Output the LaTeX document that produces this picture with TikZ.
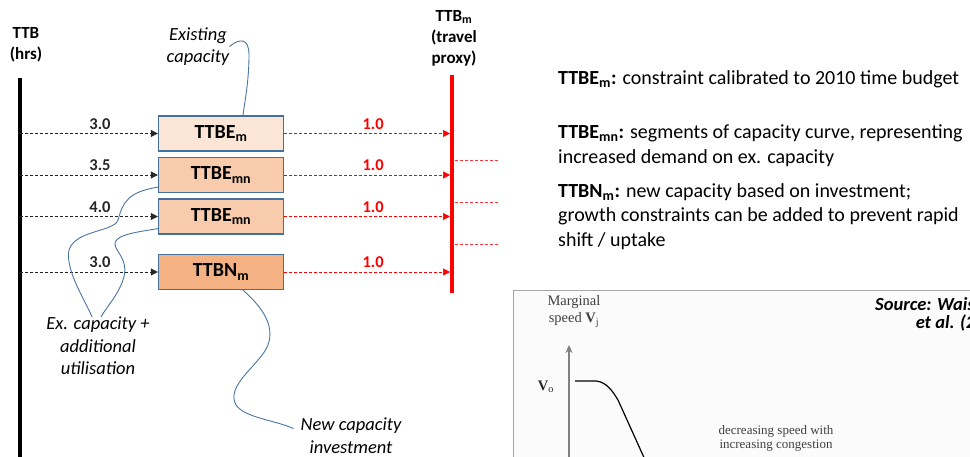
\documentclass[tikz,border=0pt]{standalone}
\usepackage{fontspec}
\setmainfont{Carlito}
\newfontfamily\scanfont{Liberation Serif}
\usepackage{tikz}
\usetikzlibrary{arrows.meta}

\definecolor{boxline}{HTML}{41719C}
\definecolor{peachA}{HTML}{FBE5D6}
\definecolor{peachB}{HTML}{F8CBAD}
\definecolor{peachC}{HTML}{F4B183}
\definecolor{calloutblue}{HTML}{4A74A0}

\tikzset{
  budget/.style={draw=boxline, line width=1.3pt, minimum width=125pt, minimum height=35pt, inner sep=0pt, font=\fontsize{20}{22}\selectfont\bfseries},
  axislabel/.style={align=center, inner sep=0pt, font=\fontsize{17}{21}\selectfont\bfseries},
  ttbarrow/.style={dash pattern=on 3pt off 2pt, black!85, line width=0.7pt, -{Triangle[length=7pt,width=7pt]}},
  proxyarrow/.style={dash pattern=on 3pt off 2pt, red, line width=0.7pt, shorten >=2pt, -{Triangle[length=7pt,width=7pt]}},
  proxystub/.style={dash pattern=on 3pt off 2pt, red!80, line width=0.7pt},
  hours/.style={above=3pt, inner sep=1pt, font=\fontsize{16.5}{18}\selectfont\bfseries},
  ratio/.style={hours, text=red},
  note/.style={anchor=west, align=left, inner sep=0pt, font=\fontsize{20}{24.5}\selectfont},
  callout/.style={align=center, inner sep=0pt, font=\fontsize{18.5}{22.5}\selectfont\itshape},
  calloutline/.style={calloutblue, line width=0.9pt},
  scanlabel/.style={align=center, inner sep=0pt, text=black!75, font=\scanfont\fontsize{14.5}{17}\selectfont}
}

\begin{document}
\begin{tikzpicture}[x=1pt, y=-1pt]
    \useasboundingbox (0,0) rectangle (970,457);

    % draw time budget axis and proxy axis
    \node[axislabel] (ttb) at (26,44.5) {TTB\\(hrs)};
    \coordinate (ttbtop) at (20,78);
    \coordinate (ttbbottom) at (20,462);
    \draw[line width=3.3pt] (ttbtop) -- (ttbbottom);

    \node[axislabel] (proxy) at (454,38) {TTB\textsubscript{m}\\(travel\\proxy)};
    \coordinate (proxytop) at (452,75);
    \coordinate (proxybottom) at (452,293);
    \draw[red, line width=4pt] (proxytop) -- (proxybottom);

    % draw budget boxes
    \node[budget, fill=peachA] (existing) at (221,133.5) {TTBE\textsubscript{m}};
    \node[budget, fill=peachB] (mnA) at (221,175) {TTBE\textsubscript{mn}};
    \node[budget, fill=peachB] (mnB) at (221,216.5) {TTBE\textsubscript{mn}};
    \node[budget, fill=peachC] (newbox) at (221,272) {TTBN\textsubscript{m}};

    % draw hours arrows
    \draw[ttbarrow] (existing.west -| ttbtop) -- node[hours, pos=0.58] (hrsA) {3.0} (existing.west);
    \draw[ttbarrow] (mnA.west -| ttbtop) -- node[hours, pos=0.58] (hrsB) {3.5} (mnA.west);
    \draw[ttbarrow] (mnB.west -| ttbtop) -- node[hours, pos=0.58] (hrsC) {4.0} (mnB.west);
    \draw[ttbarrow] (newbox.west -| ttbtop) -- node[hours, pos=0.58] (hrsD) {3.0} (newbox.west);

    % draw proxy arrows
    \draw[proxyarrow] (existing.east) -- node[ratio, pos=0.53] (ratioA) {1.0} (existing.east -| proxytop);
    \draw[proxyarrow] (mnA.east) -- node[ratio, pos=0.53] (ratioB) {1.0} (mnA.east -| proxytop);
    \draw[proxyarrow] (mnB.east) -- node[ratio, pos=0.53] (ratioC) {1.0} (mnB.east -| proxytop);
    \draw[proxyarrow] (newbox.east) -- node[ratio, pos=0.53] (ratioD) {1.0} (newbox.east -| proxytop);

    \draw[proxystub] (455,160) -- (498,160);
    \draw[proxystub] (455,202) -- (498,202);
    \draw[proxystub] (455,244) -- (498,244);

    % draw callouts
    \node[callout] (existcap) at (198,46.5) {Existing\\capacity};
    \draw[calloutline] (existcap.east) .. controls (240,38) and (249,38) .. (249,55) .. controls (249,80) and (245,100) .. ([xshift=22pt]existing.north);

    \node[callout] (excap) at (98,346) {Ex. capacity +\\additional\\utilisation};
    \draw[calloutline] ([yshift=6pt]mnA.south west) .. controls (128,192) and (123,202) .. (118,220) .. controls (114,232) and (75,230) .. (69,250) .. controls (65,270) and (85,300) .. ([xshift=-6pt]excap.north);
    \draw[calloutline] ([yshift=6pt]mnB.south west) .. controls (130,233) and (110,236) .. (116,248) .. controls (122,258) and (128,265) .. (123,280) .. controls (118,295) and (108,305) .. ([xshift=3pt]excap.north);

    \node[callout] (newcap) at (351,435.5) {New capacity\\investment};
    \draw[calloutline] ([xshift=22pt]newbox.south) .. controls (262,307) and (275,325) .. (268,345) .. controls (260,365) and (225,385) .. (236,405) .. controls (245,418) and (275,420) .. ([xshift=-7pt, yshift=-11pt]newcap.north west);

    % draw notes
    \node[note] (noteA) at (558,79) {\textbf{TTBE\textsubscript{m}:} constraint calibrated to 2010 time budget};
    \node[note] (noteB) at (558,145.5) {\textbf{TTBE\textsubscript{mn}:} segments of capacity curve, representing\\increased demand on ex. capacity};
    \node[note] (noteC) at (558,216.5) {\textbf{TTBN\textsubscript{m}:} new capacity based on investment;\\growth constraints can be added to prevent rapid\\shift / uptake};

    % draw speed curve figure
    \draw[gray!70, line width=0.8pt, fill=gray!3] (513,290) rectangle (990,480);
    \node[scanlabel] (marginal) at (574,311.5) {Marginal\\speed \textbf{V}\textsubscript{j}};
    \draw[gray, line width=1.3pt, -{Stealth[length=8pt,width=7pt]}] (569,462) -- (569,345);
    \node[scanlabel, text=black!85] (vzero) at (546,387) {\textbf{V}\textsubscript{o}};
    \draw[line width=1.2pt] (575,381) -- (596,381) .. controls (606,382) and (612,390) .. (618,400) -- (646,462);
    \node[scanlabel, font=\scanfont\fontsize{13}{13.5}\selectfont] (decreasing) at (776,438.5) {decreasing speed with\\increasing congestion};
    \node[anchor=west, align=right, inner sep=0pt, font=\fontsize{18.5}{18}\selectfont\bfseries\itshape] (source) at (875,314) {Source: Waisman\\et al. (2012)};
\end{tikzpicture}
\end{document}
